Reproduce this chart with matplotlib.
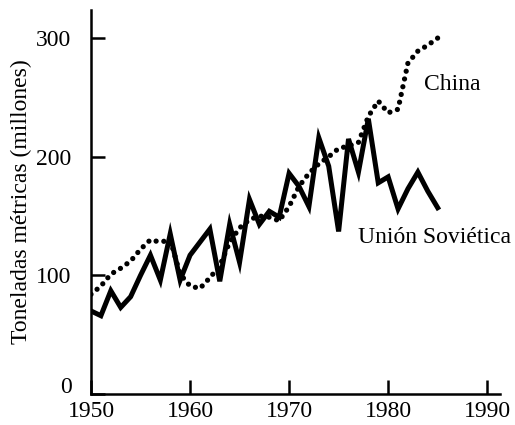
import matplotlib
matplotlib.use("Agg")
import matplotlib.pyplot as plt
from matplotlib.transforms import ScaledTranslation

# yearly values (millones de toneladas)
years = list(range(1950, 1986))
ussr = [70, 66, 87, 73, 82, 100, 117, 96, 135, 96,
        117, 128, 139, 95, 143, 111, 164, 143, 154, 149,
        186, 175, 158, 216, 192, 137, 215, 187, 232, 178,
        183, 156, 173, 187, 171, 157]
china = [84, 91, 101, 106, 112, 122, 130, 128, 130, 101,
         91, 89, 98, 108, 128, 140, 147, 150, 149, 146,
         158, 175, 186, 194, 200, 207, 209, 212, 234, 247,
         237, 240, 279, 289, 294, 300]

xticks = [1950, 1960, 1970, 1980, 1990]
yticks = [0, 100, 200, 300]
ylabel = "Toneladas métricas (millones)"

plt.rcParams["font.family"] = ["Liberation Serif", "DejaVu Serif"]
plt.rcParams["font.size"] = 17

fig = plt.figure(figsize=(5.15, 4.25), dpi=100)
ax = fig.add_axes([0.1767, 31 / 425, 0.971 - 0.1767, 0.976 - 31 / 425])

ax.plot(years, china, color="black", lw=3.8, linestyle=(0, (0.001, 1.5)),
        dash_capstyle="round")
ax.plot(years, ussr, color="black", lw=3.6, solid_joinstyle="miter")

ax.text(1983.6, 261, "China", ha="left", va="center", fontsize=17)
ax.text(1977.0, 132, "Unión Soviética", ha="left", va="center", fontsize=17)

ax.set_xlim(1950, 1991.3)
ax.set_ylim(0, 323.5)
ax.set_xticks(xticks)
ax.set_yticks(yticks)
ax.tick_params(direction="in", length=10, width=1.8, labelsize=17)
ax.tick_params(axis="x", pad=5)
ax.tick_params(axis="y", pad=14)
for lab in ax.get_yticklabels():
    lab.set_verticalalignment("center_baseline")
# keep the "0" just clear of the 1950 label
zero = ax.yaxis.get_major_ticks()[0].label1
zero.set_verticalalignment("bottom")
zero.set_transform(zero.get_transform() + ScaledTranslation(0, -3 / 72, fig.dpi_scale_trans))
for s in ["top", "right"]:
    ax.spines[s].set_visible(False)
for s in ["left", "bottom"]:
    ax.spines[s].set_linewidth(1.8)
ax.set_ylabel(ylabel, fontsize=17)
ax.yaxis.set_label_coords(-0.145, 0.5)

fig.savefig("out.png", dpi=100)
